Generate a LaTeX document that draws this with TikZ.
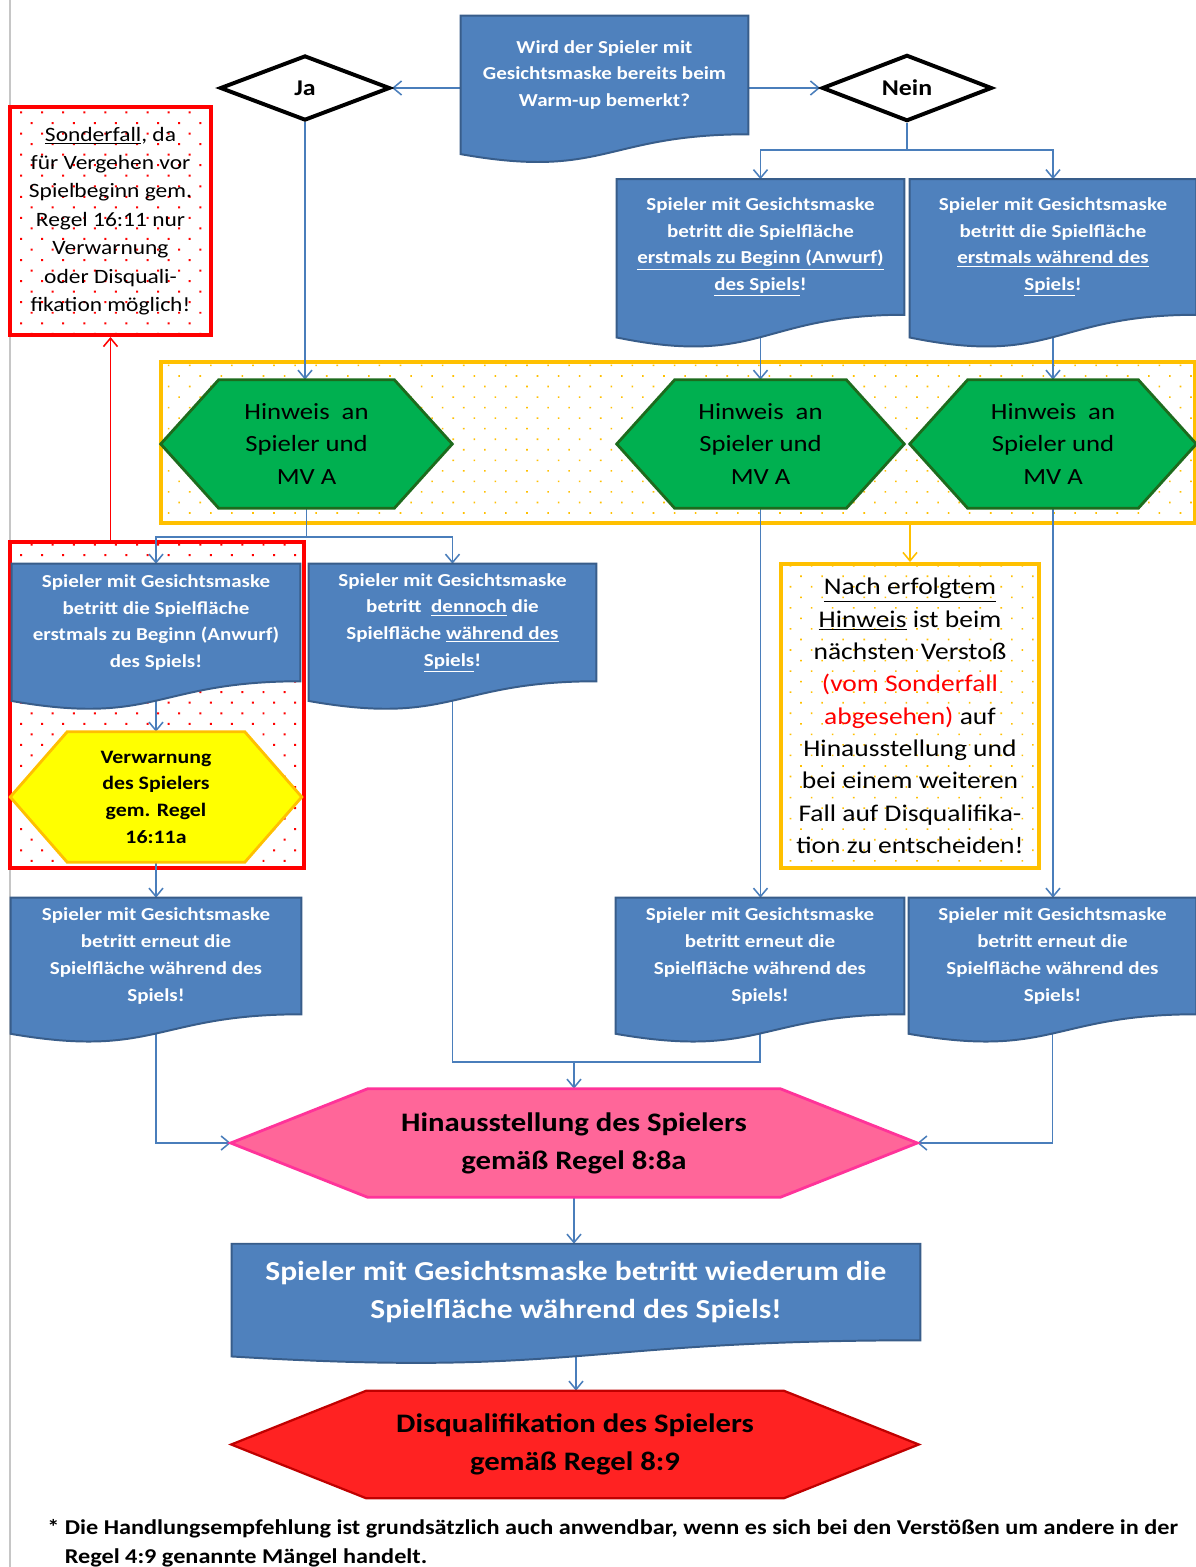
\documentclass[tikz,border=0pt]{standalone}
\usepackage{fontspec}
\setmainfont{Carlito}[FakeStretch=1.15]
\usetikzlibrary{shapes.geometric,arrows.meta,patterns.meta,calc}
\definecolor{docblue}{HTML}{4F81BD}
\definecolor{docline}{HTML}{385D8A}
\definecolor{linkblue}{HTML}{4A7EBB}
\definecolor{hwgreen}{HTML}{00B050}
\definecolor{hwline}{HTML}{1D6B1D}
\definecolor{gold}{HTML}{FFC000}
\definecolor{vwyellow}{HTML}{FFFF00}
\definecolor{hapink}{HTML}{FF6699}
\definecolor{haline}{HTML}{FF3399}
\definecolor{dqred}{HTML}{FF2222}
\definecolor{dqline}{HTML}{C00000}
\pgfdeclarelayer{back}
\pgfdeclarelayer{background}
\pgfsetlayers{back,background,main}
\newcommand{\pxu}{0.025cm}
\newcommand{\docpath}[1]{%
  \path[docshape] let \p1=(#1.north west), \p2=(#1.south east), \n1={\y1-\y2} in
    (\x1,\y1) -- (\x2,\y1) -- (\x2,\y2)
    .. controls ({0.5*(\x1+\x2)},\y2) and ({0.5*(\x1+\x2)},{\y2-0.384*\n1}) ..
    (\x1,{\y2-0.1675*\n1}) -- cycle;}
\newcommand{\hexpath}[3]{%
  \path[#3] (#1.west) -- ([xshift=#2*\pxu]#1.north west) -- ([xshift=-#2*\pxu]#1.north east)
    -- (#1.east) -- ([xshift=-#2*\pxu]#1.south east) -- ([xshift=#2*\pxu]#1.south west) -- cycle;}

\begin{document}
\begin{tikzpicture}[x=\pxu, y=-\pxu, >={Straight Barb[length=6pt,width=10pt]}]
  \tikzset{every node/.style={inner sep=0pt,align=center},
    box/.style 2 args={minimum width=#1*\pxu,minimum height=#2*\pxu},
    doc/.style={text=white,font=\bfseries\fontsize{13}{19}\selectfont},
    docshape/.style={fill=docblue,draw=docline,line width=1.4pt},
    hw/.style={font=\fontsize{16.5}{23.4}\selectfont},
    entscheid/.style={diamond,draw=black,fill=white,line width=2.8pt,
      minimum width=170*\pxu,minimum height=65*\pxu,font=\bfseries\fontsize{16}{18}\selectfont},
    link/.style={draw=linkblue,line width=1.1pt},
    rahmenrot/.style={draw=red,line width=2.8pt,pattern={Dots[angle=45,distance=10.6pt,radius=1pt]},pattern color=red},
    rahmengelb/.style={draw=gold,line width=2.8pt,pattern={Dots[angle=45,distance=10.6pt,radius=0.8pt]},pattern color=gold}}
  \useasboundingbox (0,0) rectangle (1196,1567);
  \node[doc,box={287}{118}] (FRAGE) at (604.5,75) {Wird der Spieler mit\\Gesichtsmaske bereits beim\\Warm-up bemerkt?};
  \node[entscheid] (JA) at (305,88) {Ja};
  \node[entscheid] (NEIN) at (907,88) {Nein};
  \node[doc,box={287}{135}] (SP-1-1) at (760.5,247) {Spieler mit Gesichtsmaske\\betritt die Spielfläche\\\underline{erstmals zu Beginn (Anwurf)}\\\underline{des Spiels}!};
  \node[doc,box={286}{135}] (SP-1-2) at (1053,247) {Spieler mit Gesichtsmaske\\betritt die Spielfläche\\\underline{erstmals während des}\\\underline{Spiels}!};
  \node[rahmenrot,box={201}{228},font=\fontsize{14.5}{20.2}\selectfont] (SF) at (110.5,221) {\underline{Sonderfall}, da\\für Vergehen vor\\Spielbeginn gem.\\Regel 16:11 nur\\Verwarnung\\oder Disquali-\\fikation möglich!};
  \node[hw,box={291}{128}] (HW-1-1) at (306.5,444) {Hinweis\ \ an\\Spieler und\\MV A};
  \node[hw,box={287}{128}] (HW-1-2) at (760.5,444) {Hinweis\ \ an\\Spieler und\\MV A};
  \node[hw,box={286}{128}] (HW-1-3) at (1053,444) {Hinweis\ \ an\\Spieler und\\MV A};
  \node[doc,box={288}{117}] (SP-2-1) at (156,622.5) {Spieler mit Gesichtsmaske\\betritt die Spielfläche\\erstmals zu Beginn (Anwurf)\\des Spiels!};
  \node[doc,box={287}{117}] (SP-2-2) at (452.5,622.5) {Spieler mit Gesichtsmaske\\betritt\ \ \underline{dennoch} die\\Spielfläche \underline{während des}\\\underline{Spiels}!};
  \node[box={291}{130},font=\bfseries\fontsize{13.5}{19}\selectfont] (VW) at (156,797) {Verwarnung\\des Spielers\\gem. Regel\\16:11a};
  \node[rahmengelb,box={258}{304},font=\fontsize{17}{23}\selectfont] (NB) at (910,716) {\underline{Nach erfolgtem}\\\underline{Hinweis} ist beim\\nächsten Verstoß\\\textcolor{red}{(vom Sonderfall}\\\textcolor{red}{abgesehen)} auf\\Hinausstellung und\\bei einem weiteren\\Fall auf Disqualifika-\\tion zu entscheiden!};
  \node[doc,box={290}{116}] (SP-3-1) at (156,956) {Spieler mit Gesichtsmaske\\betritt erneut die\\Spielfläche während des\\Spiels!};
  \node[doc,box={288}{116}] (SP-3-2) at (760,956) {Spieler mit Gesichtsmaske\\betritt erneut die\\Spielfläche während des\\Spiels!};
  \node[doc,box={287}{116}] (SP-3-3) at (1052.5,956) {Spieler mit Gesichtsmaske\\betritt erneut die\\Spielfläche während des\\Spiels!};
  \node[box={686}{108},font=\bfseries\fontsize{19}{27}\selectfont] (HA) at (574,1143) {Hinausstellung des Spielers\\gemäß Regel 8:8a};
  \node[doc,box={688}{96},font=\bfseries\fontsize{19.5}{27}\selectfont] (SP-4-1) at (576,1292) {Spieler mit Gesichtsmaske betritt wiederum die\\Spielfläche während des Spiels!};
  \node[box={687}{107},font=\bfseries\fontsize{19}{27}\selectfont] (DQ) at (575,1444.5) {Disqualifikation des Spielers\\gemäß Regel 8:9};
  \node[anchor=north west,align=left,font=\bfseries\fontsize{15}{20.5}\selectfont] (FN) at (47,1519) {* Die Handlungsempfehlung ist grundsätzlich auch anwendbar, wenn es sich bei den Verstößen um andere in der\\\hphantom{* }Regel 4:9 genannte Mängel handelt.};
  \begin{pgfonlayer}{back}
    \fill[white] (0,0) rectangle (1196,1567);
    \draw[gray!45,line width=1pt] (10,0) -- (10,1567);
    \node[rahmenrot,box={294}{326}] (RAHMEN-1) at (157,705) {};
    \node[rahmengelb,box={1034}{161}] (RAHMEN-2) at (678,442.5) {};
    \coordinate (NV) at (907,150);
    \coordinate (HV) at (306.5,537);
    \coordinate (MJ) at (574,1062);
    \draw[link,->] (JA.east -| FRAGE.west) -- (JA.east);
    \draw[link,->] (NEIN.west -| FRAGE.east) -- (NEIN.west);
    \draw[link,->] (NEIN.south) -- (NV) -| (SP-1-1.north);
    \draw[link,->] (NV) -| (SP-1-2.north);
    \draw[link,->] (JA.south) -- (JA.south |- HW-1-1.north);
    \draw[link,->] (SP-1-1.south) -- (HW-1-2.north);
    \draw[link,->] (SP-1-2.south) -- (HW-1-3.north);
    \draw[link,->] (HW-1-1.south) -- (HV) -| (SP-2-1.north);
    \draw[link,->] (HV) -| (SP-2-2.north);
    \draw[link,->] (SP-2-1.south) -- (VW.north);
    \draw[link,->] (VW.south) -- (SP-3-1.north);
    \draw[link,->] (HW-1-2.south) -- (HW-1-2.south |- SP-3-2.north);
    \draw[link,->] (HW-1-3.south) -- (HW-1-3.south |- SP-3-3.north);
    \draw[link] (SP-2-2.south) |- (MJ);
    \draw[link] (SP-3-2.south) |- (MJ);
    \draw[link,->] (MJ) -- (HA.north);
    \draw[link,->] (SP-3-1.south) |- (HA.west);
    \draw[link,->] (SP-3-3.south) |- (HA.east);
    \draw[link,->] (HA.south) -- (HA.south |- SP-4-1.north);
    \draw[link,->] (SP-4-1.south) -- (SP-4-1.south |- DQ.north);
    \draw[red,line width=1.1pt,->] (SF.south |- RAHMEN-1.north) -- (SF.south);
    \draw[gold,line width=1.1pt,->] (NB.north |- RAHMEN-2.south) -- (NB.north);
  \end{pgfonlayer}
  \begin{pgfonlayer}{background}
    \foreach \nd in {FRAGE,SP-1-1,SP-1-2,SP-2-1,SP-2-2,SP-3-1,SP-3-2,SP-3-3,SP-4-1} {\docpath{\nd}}
    \foreach \nd in {HW-1-1,HW-1-2,HW-1-3} {\hexpath{\nd}{58}{fill=hwgreen,draw=hwline,line width=2pt}}
    \hexpath{VW}{57}{fill=vwyellow,draw=gold,line width=2pt}
    \hexpath{HA}{137}{fill=hapink,draw=haline,line width=2pt}
    \hexpath{DQ}{135}{fill=dqred,draw=dqline,line width=1.6pt}
  \end{pgfonlayer}
\end{tikzpicture}
\end{document}
